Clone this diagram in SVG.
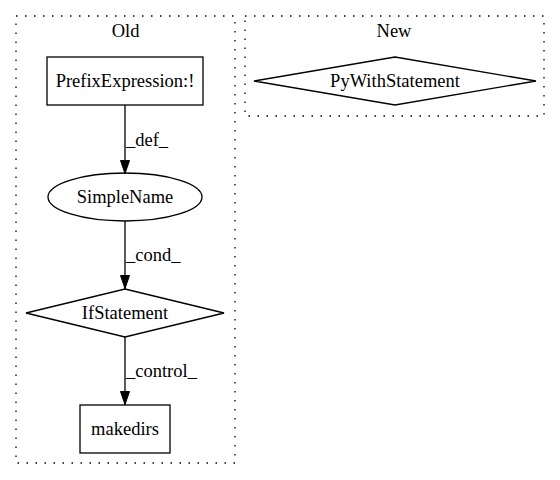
<svg xmlns="http://www.w3.org/2000/svg" width="560" height="480" viewBox="0 0 560 480">
<style>
text{font-family:"Liberation Serif","Times New Roman",serif;font-size:18.5px;fill:#000}
.c{fill:none;stroke:#000;stroke-width:1.3;stroke-dasharray:1.5,7.5}
.n{fill:none;stroke:#000;stroke-width:1.3}
.e{stroke:#000;stroke-width:1.3;fill:none}
</style>
<defs>
<marker id="a" markerWidth="14" markerHeight="10" refX="14" refY="5" orient="auto" markerUnits="userSpaceOnUse">
<path d="M0.5,0.5L13.5,5L0.5,9.5z" fill="#000" stroke="#000" stroke-width="1"/>
</marker>
</defs>
<rect width="560" height="480" fill="#fff"/>
<g id="cluster_old">
<rect class="c" x="16" y="16" width="219" height="447"/>
<text x="125.5" y="37" text-anchor="middle">Old</text>
</g>
<g id="cluster_new">
<rect class="c" x="245" y="16" width="299" height="100"/>
<text x="394" y="37" text-anchor="middle">New</text>
</g>
<g id="connectors">
<line class="e" x1="125" y1="105" x2="125" y2="174" marker-end="url(#a)"/>
<text x="126" y="146">_def_</text>
<line class="e" x1="125" y1="221" x2="125" y2="289" marker-end="url(#a)"/>
<text x="126" y="261">_cond_</text>
<line class="e" x1="125" y1="337" x2="125" y2="405" marker-end="url(#a)"/>
<text x="126" y="377">_control_</text>
</g>
<g id="PrefixExpression">
<rect class="n" x="47" y="57" width="156" height="48"/>
<text x="125" y="87" text-anchor="middle">PrefixExpression:!</text>
</g>
<g id="SimpleName">
<ellipse class="n" cx="125" cy="197" rx="77" ry="24"/>
<text x="125" y="203" text-anchor="middle">SimpleName</text>
</g>
<g id="IfStatement">
<polygon class="n" points="125,289 224,313 125,337 26,313"/>
<text x="125" y="319" text-anchor="middle">IfStatement</text>
</g>
<g id="makedirs">
<rect class="n" x="80" y="405" width="90" height="48"/>
<text x="125" y="435" text-anchor="middle">makedirs</text>
</g>
<g id="PyWithStatement">
<polygon class="n" points="395,57 536,81 395,105 254,81"/>
<text x="395" y="87" text-anchor="middle">PyWithStatement</text>
</g>
</svg>
